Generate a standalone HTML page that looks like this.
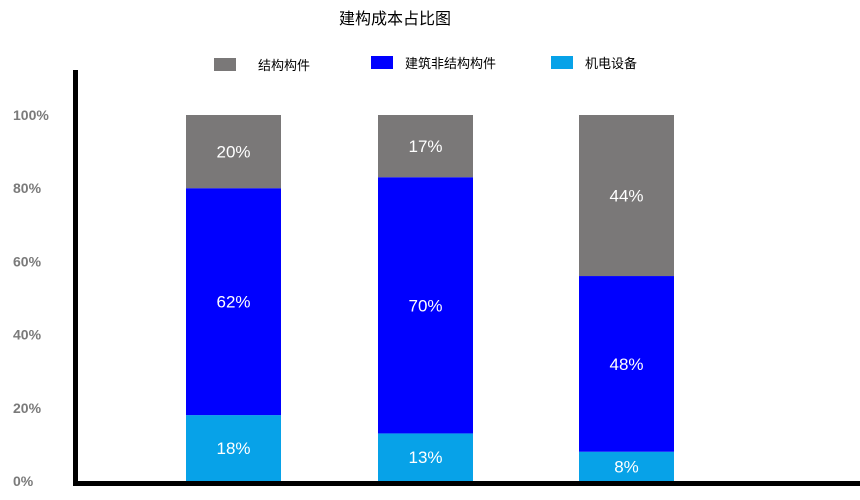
<!DOCTYPE html>
<html><head><meta charset="utf-8">
<style>
body{margin:0;background:#fff;}
svg{display:block;font-family:"Liberation Sans","Noto Sans CJK SC",sans-serif;}
</style></head>
<body>
<svg id="chart" width="860" height="500">
  <text x="395" y="24" text-anchor="middle" font-size="16" fill="#000">建构成本占比图</text>
  <g>
    <rect x="214" y="58" width="22" height="13" fill="#7a7878"/>
    <text x="258" y="70" font-size="13" fill="#000">结构构件</text>
    <rect x="371" y="56" width="22" height="13" fill="#0000ff"/>
    <text x="405" y="68" font-size="13" fill="#000">建筑非结构构件</text>
    <rect x="551" y="56" width="22" height="13" fill="#07a2e8"/>
    <text x="585" y="68" font-size="13" fill="#000">机电设备</text>
  </g>
  <g id="yticks"></g>
  <g id="bars"></g>
  <rect x="73" y="70" width="5" height="416" fill="#000"/>
  <rect x="73" y="481" width="787" height="5" fill="#000"/>
</svg>
<script>
const categories = ["A", "B", "C"];
const mepValues = [18, 13, 8];
const nonStructValues = [62, 70, 48];
const structValues = [20, 17, 44];
const yTickValues = [0, 20, 40, 60, 80, 100];
const yTickLabels = ["0%", "20%", "40%", "60%", "80%", "100%"];

const NS = "http://www.w3.org/2000/svg";
const y0 = 481, y100 = 115;
function yScale(v){ return y0 - (y0 - y100) * v / 100; }
const barX = [186, 378, 579];
function xScale(i){ return barX[i] !== undefined ? barX[i] : 186 + i * 196; }
const barW = 95;

const tg = document.getElementById("yticks");
yTickValues.forEach((v, i) => {
  const t = document.createElementNS(NS, "text");
  t.setAttribute("x", 13);
  t.setAttribute("y", yScale(v) + 5);
  t.setAttribute("font-size", "14");
  t.setAttribute("font-weight", "bold");
  t.setAttribute("fill", "#7a7a7a");
  t.textContent = yTickLabels[i];
  
  
  tg.appendChild(t);
});

const bg = document.getElementById("bars");
const series = [
  {vals: mepValues, color: "#07a2e8", name: "mep"},
  {vals: nonStructValues, color: "#0000ff", name: "nonstructural"},
  {vals: structValues, color: "#7a7878", name: "structural"}
];
categories.forEach((c, i) => {
  let cum = 0;
  series.forEach(s => {
    const v = s.vals[i];
    const yTop = yScale(cum + v), yBot = yScale(cum);
    const r = document.createElementNS(NS, "rect");
    r.setAttribute("x", xScale(i));
    r.setAttribute("y", yTop);
    r.setAttribute("width", barW);
    r.setAttribute("height", yBot - yTop);
    r.setAttribute("fill", s.color);
    
    
    bg.appendChild(r);
    const t = document.createElementNS(NS, "text");
    t.setAttribute("x", xScale(i) + barW / 2);
    t.setAttribute("y", (yTop + yBot) / 2 + 6);
    t.setAttribute("text-anchor", "middle");
    t.setAttribute("font-size", "17");
    t.setAttribute("fill", "#fff");
    t.textContent = v + "%";
    
    
    bg.appendChild(t);
    cum += v;
  });
});
</script>
</body></html>
